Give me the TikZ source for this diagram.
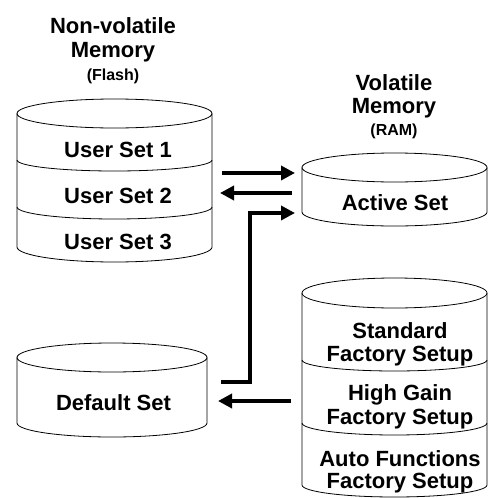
\documentclass[tikz,border=0pt]{standalone}
\usepackage{fontspec}
\setmainfont{Liberation Sans}
\usetikzlibrary{arrows.meta}
\begin{document}
\begin{tikzpicture}[x=1pt,y=1pt,
  outline/.style={line width=0.8pt},
  big/.style={font=\fontsize{22}{23}\selectfont\bfseries, inner sep=0pt, anchor=base},
  small/.style={font=\fontsize{16}{18}\selectfont\bfseries, inner sep=0pt, anchor=base},
  flow/.style={line width=4.5pt, -{Triangle[length=14pt,width=14pt]}}]
\fill[white] (0,0) rectangle (488,-498);
\useasboundingbox (0,0) rectangle (488,-498);

% ---- Non-volatile memory (Flash)
\node[big]   (nvt1) at (113,-33) {Non-volatile};
\node[big]   (nvt2) at (113,-57) {Memory};
\node[small] (nvt3) at (113,-80) {(Flash)};
\draw[outline] (17,-113.5) -- (17,-247) arc[start angle=180,end angle=360,x radius=97.5,y radius=15] -- (212,-113.5);
\draw[outline] (114.5,-113.5) ellipse[x radius=97.5,y radius=14.5];
\draw[outline] (17,-160) arc[start angle=180,end angle=360,x radius=97.5,y radius=11];
\draw[outline] (17,-207) arc[start angle=180,end angle=360,x radius=97.5,y radius=12];
\node[big] (us1) at (118,-157) {User Set 1};
\node[big] (us2) at (118,-203) {User Set 2};
\node[big] (us3) at (118,-249) {User Set 3};

% ---- Volatile memory (RAM)
\node[big]   (vt1) at (394,-90) {Volatile};
\node[big]   (vt2) at (394,-113) {Memory};
\node[small] (vt3) at (394,-135) {(RAM)};
\draw[outline] (302,-167.5) -- (302,-212) arc[start angle=180,end angle=360,x radius=92.5,y radius=14] -- (487,-167.5);
\draw[outline] (394.5,-167.5) ellipse[x radius=92.5,y radius=14.5];
\node[big] (act) at (395,-210) {Active Set};

% ---- Default set
\draw[outline] (17,-357.5) -- (17,-423) arc[start angle=180,end angle=360,x radius=95,y radius=14] -- (207,-357.5);
\draw[outline] (112,-357.5) ellipse[x radius=95,y radius=14.5];
\node[big] (def) at (113.5,-410) {Default Set};

% ---- Factory setups
\draw[outline] (302,-293) -- (302,-485) arc[start angle=180,end angle=360,x radius=92.5,y radius=12] -- (487,-293);
\draw[outline] (394.5,-293) ellipse[x radius=92.5,y radius=15];
\draw[outline] (302,-360) arc[start angle=180,end angle=360,x radius=92.5,y radius=11];
\draw[outline] (302,-423) arc[start angle=180,end angle=360,x radius=92.5,y radius=12];
\node[big] (fs1a) at (400,-338) {Standard};
\node[big] (fs1b) at (400,-361) {Factory Setup};
\node[big] (fs2a) at (400,-400) {High Gain};
\node[big] (fs2b) at (400,-424) {Factory Setup};
\node[big] (fs3a) at (400,-466) {Auto Functions};
\node[big] (fs3b) at (400,-488) {Factory Setup};

% ---- connector ends
\coordinate (saveS) at (222,-173);
\coordinate (saveE) at (295,-173);
\coordinate (loadS) at (292,-193);
\coordinate (loadE) at (220,-193);
\coordinate (defS)  at (221,-382);
\coordinate (defK)  at (250,-382);
\coordinate (defE)  at (295,-213);
\coordinate (facS)  at (291,-401);
\coordinate (facE)  at (218,-401);

\draw[flow] (saveS) -- (saveE);
\draw[flow] (loadS) -- (loadE);
\draw[flow] (defS) -- (defK) |- (defE);
\draw[flow] (facS) -- (facE);
\end{tikzpicture}
\end{document}
